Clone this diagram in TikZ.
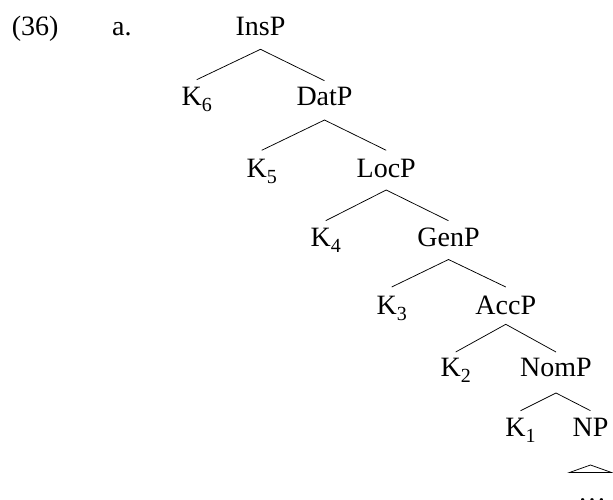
\documentclass[tikz,border=0pt]{standalone}
\usepackage{fontspec}
\setmainfont{Liberation Serif}
\newcommand{\mysub}[1]{\raisebox{-6pt}{\fontsize{20}{20}\selectfont #1}}
\begin{document}
\begin{tikzpicture}[x=1pt,y=-1pt,
  font=\fontsize{28}{33}\selectfont,
  lbl/.style={inner sep=0pt, anchor=base},
  edge/.style={line width=0.75pt}]
\useasboundingbox (0,0) rectangle (613,500);
\clip (0,0) rectangle (613,500);
% labels
\node[lbl, anchor=base west] (ex) at (11.7,36) {(36)};
\node[lbl, anchor=base west] (a) at (112,36) {a.};
\node[lbl] (insp) at (260.5,36) {InsP};
\node[lbl] (k6) at (196.7,105.7) {K\mysub{6}};
\node[lbl] (datp) at (324.5,105.7) {DatP};
\node[lbl] (k5) at (261.7,177) {K\mysub{5}};
\node[lbl] (locp) at (386.2,177) {LocP};
\node[lbl] (k4) at (325.7,246.3) {K\mysub{4}};
\node[lbl] (genp) at (448.5,246.3) {GenP};
\node[lbl] (k3) at (391.7,314.5) {K\mysub{3}};
\node[lbl] (accp) at (505.8,314.5) {AccP};
\node[lbl] (k2) at (455.7,376.5) {K\mysub{2}};
\node[lbl] (nomp) at (556,376.5) {NomP};
\node[lbl] (k1) at (520.5,436.5) {K\mysub{1}};
\node[lbl] (np) at (590.5,436.5) {NP};
\node[lbl] (dots) at (592,501.5) {\ldots};
% branches
\draw[edge] ([yshift=26pt]k6.base) -- ([yshift=-13.3pt]insp.base) -- ([yshift=25pt]datp.base);
\draw[edge] ([yshift=26.7pt]k5.base) -- ([yshift=-14.3pt]datp.base) -- ([yshift=26.7pt]locp.base);
\draw[edge] ([yshift=25.6pt]k4.base) -- ([yshift=-13pt]locp.base) -- ([yshift=25.6pt]genp.base);
\draw[edge] ([yshift=27.5pt]k3.base) -- ([yshift=-13.2pt]genp.base) -- ([yshift=27.5pt]accp.base);
\draw[edge] ([yshift=24.5pt]k2.base) -- ([yshift=-9.8pt]accp.base) -- ([yshift=24.5pt]nomp.base);
\draw[edge] ([yshift=25.8pt]k1.base) -- ([yshift=-16.5pt]nomp.base) -- ([yshift=25.8pt]np.base);
% roof
\draw[edge] ([yshift=-28.5pt]np.base) coordinate (roof) -- ++(-21,7.5) -- ++(42,0) -- cycle;
\end{tikzpicture}
\end{document}
